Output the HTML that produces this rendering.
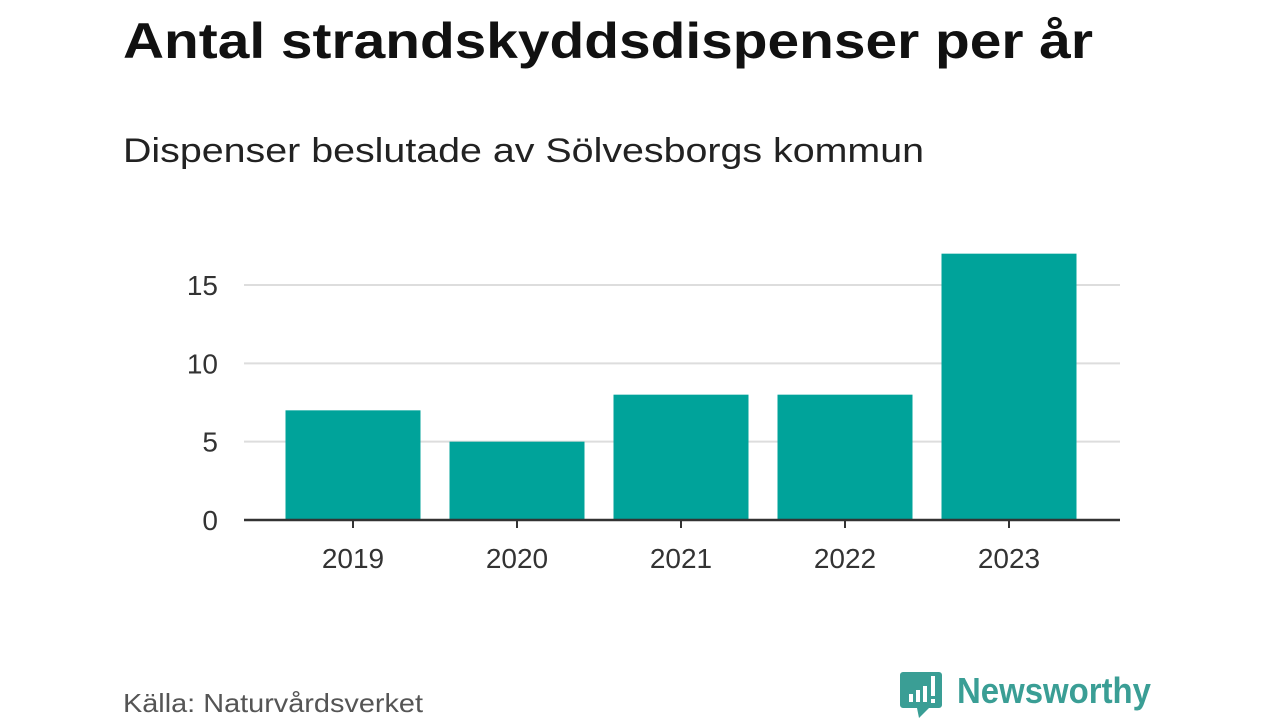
<!DOCTYPE html>
<html><head><meta charset="utf-8"><style>
body{margin:0;width:1280px;height:720px;background:#fff;font-family:"Liberation Sans",sans-serif;overflow:hidden}
</style></head><body>
<svg width="1280" height="720">
<text x="123" y="58" font-size="50" font-weight="bold" fill="#111" textLength="970" lengthAdjust="spacingAndGlyphs">Antal strandskyddsdispenser per år</text>
<text x="123" y="162" font-size="34" fill="#222" textLength="801" lengthAdjust="spacingAndGlyphs">Dispenser beslutade av Sölvesborgs kommun</text>
<g id="grid"></g><g id="bars"></g><g id="xax"></g>
<text x="123" y="712" font-size="26" fill="#555" textLength="300" lengthAdjust="spacingAndGlyphs">Källa: Naturvårdsverket</text>
<g>
<path d="M903 672 h36 a3 3 0 0 1 3 3 v30 a3 3 0 0 1 -3 3 h-10 l-10 10 l-2 -10 h-14 a3 3 0 0 1 -3 -3 v-30 a3 3 0 0 1 3 -3z" fill="#3a9e95"/>
<rect x="909" y="694" width="4" height="8" fill="#fff"/><rect x="916" y="690" width="4" height="12" fill="#fff"/><rect x="923" y="686" width="4" height="16" fill="#fff"/><rect x="931" y="676" width="4" height="20" fill="#fff"/><rect x="931" y="699" width="4" height="4" fill="#fff"/>
<text x="957" y="703" font-size="36" font-weight="bold" fill="#3a9e95" textLength="194" lengthAdjust="spacingAndGlyphs">Newsworthy</text>
</g>
</svg>
<script>
const categories=["2019","2020","2021","2022","2023"];
const values=[7,5,8,8,17];
const yTicks=[0,5,10,15];
const ns="http://www.w3.org/2000/svg";
const x0=244,x1=1120,y0=520,pxPer=(520-285)/15;
const y=v=>y0-v*pxPer;
const band=164,pad=(x1-x0-band*categories.length)/2,bw=135;
const xc=i=>x0+pad+band*i+band/2-1;
function mk(t,a,p){const e=document.createElementNS(ns,t);for(const k in a)e.setAttribute(k,a[k]);p.appendChild(e);return e;}
const g=document.getElementById('grid'),b=document.getElementById('bars'),xa=document.getElementById('xax');
yTicks.forEach(t=>{
 if(t>0){const l=mk('line',{x1:x0,x2:x1,y1:y(t),y2:y(t),stroke:'#ddd','stroke-width':2},g);
 
 }
 const tx=mk('text',{x:218,y:y(t)+10,'font-size':28,fill:'#333','text-anchor':'end'},g);tx.textContent=t;
 
 
});
values.forEach((v,i)=>{
 const r=mk('rect',{x:xc(i)-bw/2,y:y(v),width:bw,height:y0-y(v),fill:'#00a39a'},b);
 
 
 mk('line',{x1:xc(i),x2:xc(i),y1:y0,y2:y0+8,stroke:'#333','stroke-width':2},xa);
 const t=mk('text',{x:xc(i),y:568,'font-size':28,fill:'#333','text-anchor':'middle'},xa);t.textContent=categories[i];
 
 
});
const ax=mk('line',{x1:x0,x2:x1,y1:y0,y2:y0,stroke:'#333','stroke-width':2.5},xa);


</script>
</body></html>
